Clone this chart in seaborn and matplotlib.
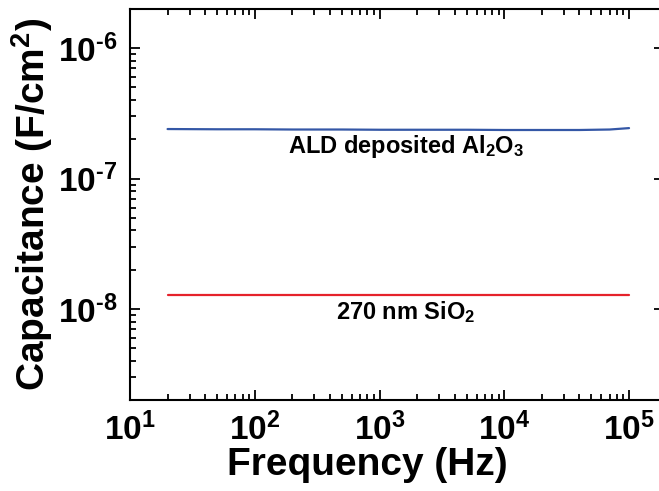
import seaborn as sns
import matplotlib.pyplot as plt
import matplotlib.ticker as mticker
import pandas as pd
import numpy as np

sns.set_style("ticks")
plt.rcParams["font.family"] = ["Liberation Sans", "DejaVu Sans"]
plt.rcParams["font.weight"] = "bold"
plt.rcParams["mathtext.fontset"] = "custom"
plt.rcParams["mathtext.rm"] = "Liberation Sans:bold"
plt.rcParams["mathtext.bf"] = "Liberation Sans:bold"
plt.rcParams["mathtext.it"] = "Liberation Sans:bold"
for k in ["text.color", "axes.labelcolor", "xtick.color", "ytick.color", "axes.edgecolor"]:
    plt.rcParams[k] = "black"

# Capacitance vs frequency
freq = [20, 50, 100, 200, 500, 1000, 2000, 5000, 10000, 20000, 40000, 70000, 100000]
al2o3 = [2.40e-7, 2.39e-7, 2.39e-7, 2.38e-7, 2.38e-7, 2.37e-7, 2.37e-7, 2.37e-7,
         2.36e-7, 2.36e-7, 2.36e-7, 2.38e-7, 2.44e-7]
sio2 = [1.27e-8, 1.27e-8, 1.27e-8, 1.27e-8, 1.27e-8, 1.27e-8, 1.27e-8, 1.27e-8,
        1.27e-8, 1.27e-8, 1.27e-8, 1.27e-8, 1.27e-8]

df = pd.DataFrame({"freq": freq * 2,
                   "cap": al2o3 + sio2,
                   "film": ["Al2O3"] * len(freq) + ["SiO2"] * len(freq)})

fig = plt.figure(figsize=(6.59, 4.91), dpi=100)
ax = fig.add_axes([0.1973, 0.1853, 0.810, 0.7963])

sns.lineplot(data=df, x="freq", y="cap", hue="film",
             palette={"Al2O3": "#3457a6", "SiO2": "#e5222b"},
             linewidth=1.6, legend=False, ax=ax)

ax.set_xscale("log")
ax.set_yscale("log")
ax.set_xlim(10, 1.9e5)
ax.set_ylim(2e-9, 2e-6)

def fmt(v, pos):
    e = int(round(np.log10(v)))
    if e < 0:
        return r"$\mathbf{10^{\text{-}%d}}$" % (-e)
    return r"$\mathbf{10^{%d}}$" % e

ax.xaxis.set_major_locator(mticker.LogLocator(base=10, numticks=10))
ax.yaxis.set_major_locator(mticker.LogLocator(base=10, numticks=10))
ax.xaxis.set_major_formatter(mticker.FuncFormatter(fmt))
ax.yaxis.set_major_formatter(mticker.FuncFormatter(fmt))
ax.xaxis.set_minor_locator(mticker.LogLocator(base=10, subs=np.arange(2, 10), numticks=10))
ax.yaxis.set_minor_locator(mticker.LogLocator(base=10, subs=np.arange(2, 10), numticks=10))
ax.xaxis.set_minor_formatter(mticker.NullFormatter())
ax.yaxis.set_minor_formatter(mticker.NullFormatter())

ax.tick_params(which="both", direction="in", top=True, right=True, width=1.3,
               labelsize=24, pad=9)
ax.tick_params(which="major", length=7)
ax.tick_params(which="minor", length=4)
ax.tick_params(axis="y", which="minor", right=False)
for s in ax.spines.values():
    s.set_linewidth(1.5)

ax.set_xlabel("Frequency (Hz)", fontsize=28, fontweight="bold")
ax.set_ylabel(r"Capacitance (F/cm$^{2}$)", fontsize=28, fontweight="bold")
ax.xaxis.set_label_coords(0.445, -0.12)
ax.yaxis.set_label_coords(-0.14, 0.5)

ax.text(1630, 1.75e-7, r"ALD deposited Al$_{2}$O$_{3}$", ha="center", va="center",
        fontsize=17, fontweight="bold")
ax.text(1630, 9.4e-9, r"270 nm SiO$_{2}$", ha="center", va="center",
        fontsize=17, fontweight="bold")

fig.savefig("out.png", dpi=100)
plt.close(fig)
